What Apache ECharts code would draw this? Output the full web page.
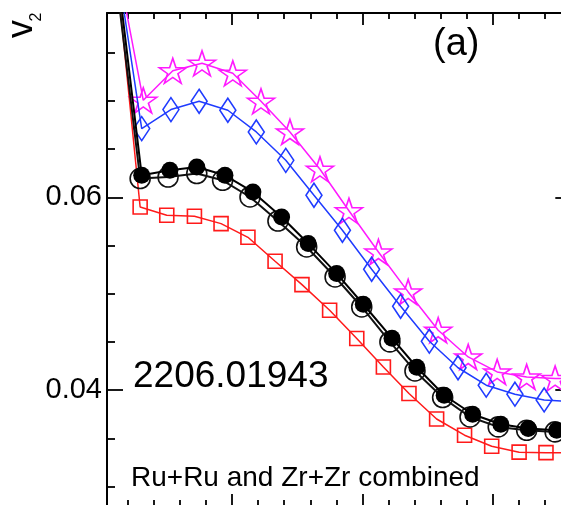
<!DOCTYPE html>
<html>
<head>
<meta charset="utf-8">
<script src="https://cdn.jsdelivr.net/npm/echarts@6/dist/echarts.min.js"></script>
<style>
  html, body { margin: 0; padding: 0; background: #fff; }
  #chart { width: 561px; height: 505px; }
</style>
</head>
<body>
<div id="chart"></div>
<script>
// Axis ranges (x in minor-tick units, y = v2)
const xRange = [0.21, 18];
const yRange = [0.028, 0.0791];
const xMajorTicks = [5, 10, 15];
const xMinorTicks = [1, 2, 3, 4, 6, 7, 8, 9, 11, 12, 13, 14, 16, 17];
const yMajorTicks = [0.04, 0.06];
const yMinorTicks = [0.03, 0.035, 0.045, 0.05, 0.055, 0.065, 0.07, 0.075];

// Filled black circles
const xBlack = [0.48, 1.54, 2.62, 3.65, 4.73, 5.80, 6.90, 7.92, 9.01, 10.03, 11.13, 12.08, 13.13, 14.22, 15.30, 16.35, 17.44, 18.50];
const v2Black = [0.0862, 0.06228, 0.06280, 0.06314, 0.06228, 0.06055, 0.05796, 0.05520, 0.05209, 0.04891, 0.04539, 0.04238, 0.03948, 0.03751, 0.03648, 0.03603, 0.03585, 0.0358];

// Open black circles
const xOpen = [0.42, 1.48, 2.55, 3.65, 4.64, 5.69, 6.76, 7.86, 8.95, 9.97, 11.05, 12.01, 13.07, 14.12, 15.20, 16.29, 17.38, 18.44];
const v2Open = [0.0858, 0.06194, 0.06210, 0.06246, 0.06176, 0.06003, 0.05754, 0.05485, 0.05174, 0.04863, 0.04501, 0.04200, 0.03924, 0.03723, 0.03620, 0.03585, 0.03568, 0.0356];

// Red open squares
const xRed = [0.44, 1.48, 2.50, 3.56, 4.58, 5.61, 6.65, 7.68, 8.74, 9.78, 10.80, 11.78, 12.84, 13.91, 14.95, 16.00, 17.03, 18.07];
const v2Red = [0.0871, 0.05899, 0.05813, 0.05803, 0.05727, 0.05585, 0.05337, 0.05095, 0.04829, 0.04536, 0.04241, 0.03966, 0.03702, 0.03534, 0.03420, 0.03358, 0.03353, 0.0335];

// Blue open diamonds
const xBlue = [0.44, 1.54, 2.66, 3.74, 4.84, 5.93, 7.06, 8.14, 9.23, 10.35, 11.46, 12.56, 13.66, 14.74, 15.84, 16.96, 18.07];
const v2Blue = [0.0868, 0.06712, 0.06909, 0.06995, 0.06902, 0.06677, 0.06383, 0.06021, 0.05658, 0.05254, 0.04870, 0.04508, 0.04233, 0.04052, 0.03959, 0.03899, 0.0388];

// Magenta open stars
const xMag = [0.48, 1.60, 2.73, 3.85, 5.03, 6.11, 7.22, 8.37, 9.48, 10.61, 11.75, 12.90, 14.05, 15.16, 16.29, 17.38, 18.50];
const v2Mag = [0.0860, 0.07005, 0.07311, 0.07389, 0.07285, 0.06995, 0.06677, 0.06290, 0.05860, 0.05433, 0.05019, 0.04622, 0.04345, 0.04190, 0.04138, 0.04121, 0.0412];

const FONT = "'Liberation Sans', Arial, Helvetica, sans-serif";
const STAR = 'path://M50 0 L61.2 34.5 L97.6 34.5 L68.2 55.9 L79.4 90.5 L50 69.1 L20.6 90.5 L31.8 55.9 L2.4 34.5 L38.8 34.5 Z';

function pairs(xs, ys) { return xs.map((x, i) => [x, ys[i]]); }

function xAxisDef(position, ticks, len, showLine) {
  return {
    type: 'value', position: position, min: xRange[0], max: xRange[1],
    axisLine: { show: showLine, onZero: false, lineStyle: { color: '#000', width: 2 } },
    axisTick: { show: true, inside: true, length: len, customValues: ticks, lineStyle: { color: '#000', width: 1.8 } },
    axisLabel: { show: false }, splitLine: { show: false }
  };
}
function yAxisDef(position, ticks, len, showLine, labels) {
  return {
    type: 'value', position: position, min: yRange[0], max: yRange[1],
    axisLine: { show: showLine, onZero: false, lineStyle: { color: '#000', width: 2 } },
    axisTick: { show: true, inside: true, length: len, customValues: ticks, lineStyle: { color: '#000', width: 1.8 } },
    axisLabel: labels ? { show: true, customValues: ticks, color: '#000', fontSize: 29, fontFamily: FONT, margin: 5 } : { show: false },
    splitLine: { show: false }
  };
}

function lineSeries(name, data, color, symbol, size, fill, width, z) {
  return {
    name: name, type: 'line', data: data, xAxisIndex: 0, yAxisIndex: 0,
    symbol: symbol, symbolSize: size, showAllSymbol: true, clip: true, z: z,
    lineStyle: { color: color, width: width },
    itemStyle: { color: fill, borderColor: color, borderWidth: fill === color ? 0 : 1.6 },
    emphasis: { disabled: true }
  };
}

const chart = echarts.init(document.getElementById('chart'), null, { renderer: 'canvas' });
chart.setOption({
  animation: false,
  backgroundColor: '#fff',
  grid: { left: 107, top: 13, right: -10.3, bottom: -1, containLabel: false, outerBoundsMode: 'none' },
  xAxis: [
    xAxisDef('bottom', xMajorTicks, 12, true),
    xAxisDef('bottom', xMinorTicks, 6, false),
    xAxisDef('top', xMajorTicks, 12, true),
    xAxisDef('top', xMinorTicks, 6, false)
  ],
  yAxis: [
    yAxisDef('left', yMajorTicks, 16, true, true),
    yAxisDef('left', yMinorTicks, 8, false, false),
    yAxisDef('right', yMajorTicks, 16, true, false),
    yAxisDef('right', yMinorTicks, 8, false, false)
  ],
  series: [
    lineSeries('stars', pairs(xMag, v2Mag), '#ff1aff', STAR, [27, 25], 'rgba(0,0,0,0)', 1.5, 2),
    lineSeries('diamonds', pairs(xBlue, v2Blue), '#1f3bff', 'diamond', [16, 24], 'rgba(0,0,0,0)', 1.5, 3),
    lineSeries('squares', pairs(xRed, v2Red), '#ff1a1a', 'rect', 14, 'rgba(0,0,0,0)', 1.5, 4),
    lineSeries('open circles', pairs(xOpen, v2Open), '#111', 'circle', 20, 'rgba(0,0,0,0)', 2, 5),
    lineSeries('filled circles', pairs(xBlack, v2Black), '#000', 'circle', 17, '#000', 2, 6)
  ],
  graphic: [
    { type: 'text', x: 22.5, y: 29, rotation: Math.PI / 2, z: 10,
      style: { text: 'v', font: '36px ' + FONT, fill: '#000', align: 'center', verticalAlign: 'middle' } },
    { type: 'text', x: 37, y: 17, rotation: Math.PI / 2, z: 10,
      style: { text: '2', font: '16px ' + FONT, fill: '#000', align: 'center', verticalAlign: 'middle' } },
    { type: 'text', x: 433, y: 45, z: 10,
      style: { text: '(a)', font: '38px ' + FONT, fill: '#000', align: 'left', verticalAlign: 'middle' } },
    { type: 'text', x: 133, y: 377, z: 10,
      style: { text: '2206.01943', font: '37px ' + FONT, fill: '#000', align: 'left', verticalAlign: 'middle' } },
    { type: 'text', x: 131, y: 478, z: 10,
      style: { text: 'Ru+Ru and Zr+Zr combined', font: '28px ' + FONT, fill: '#000', align: 'left', verticalAlign: 'middle' } }
  ]
});
</script>
</body>
</html>
